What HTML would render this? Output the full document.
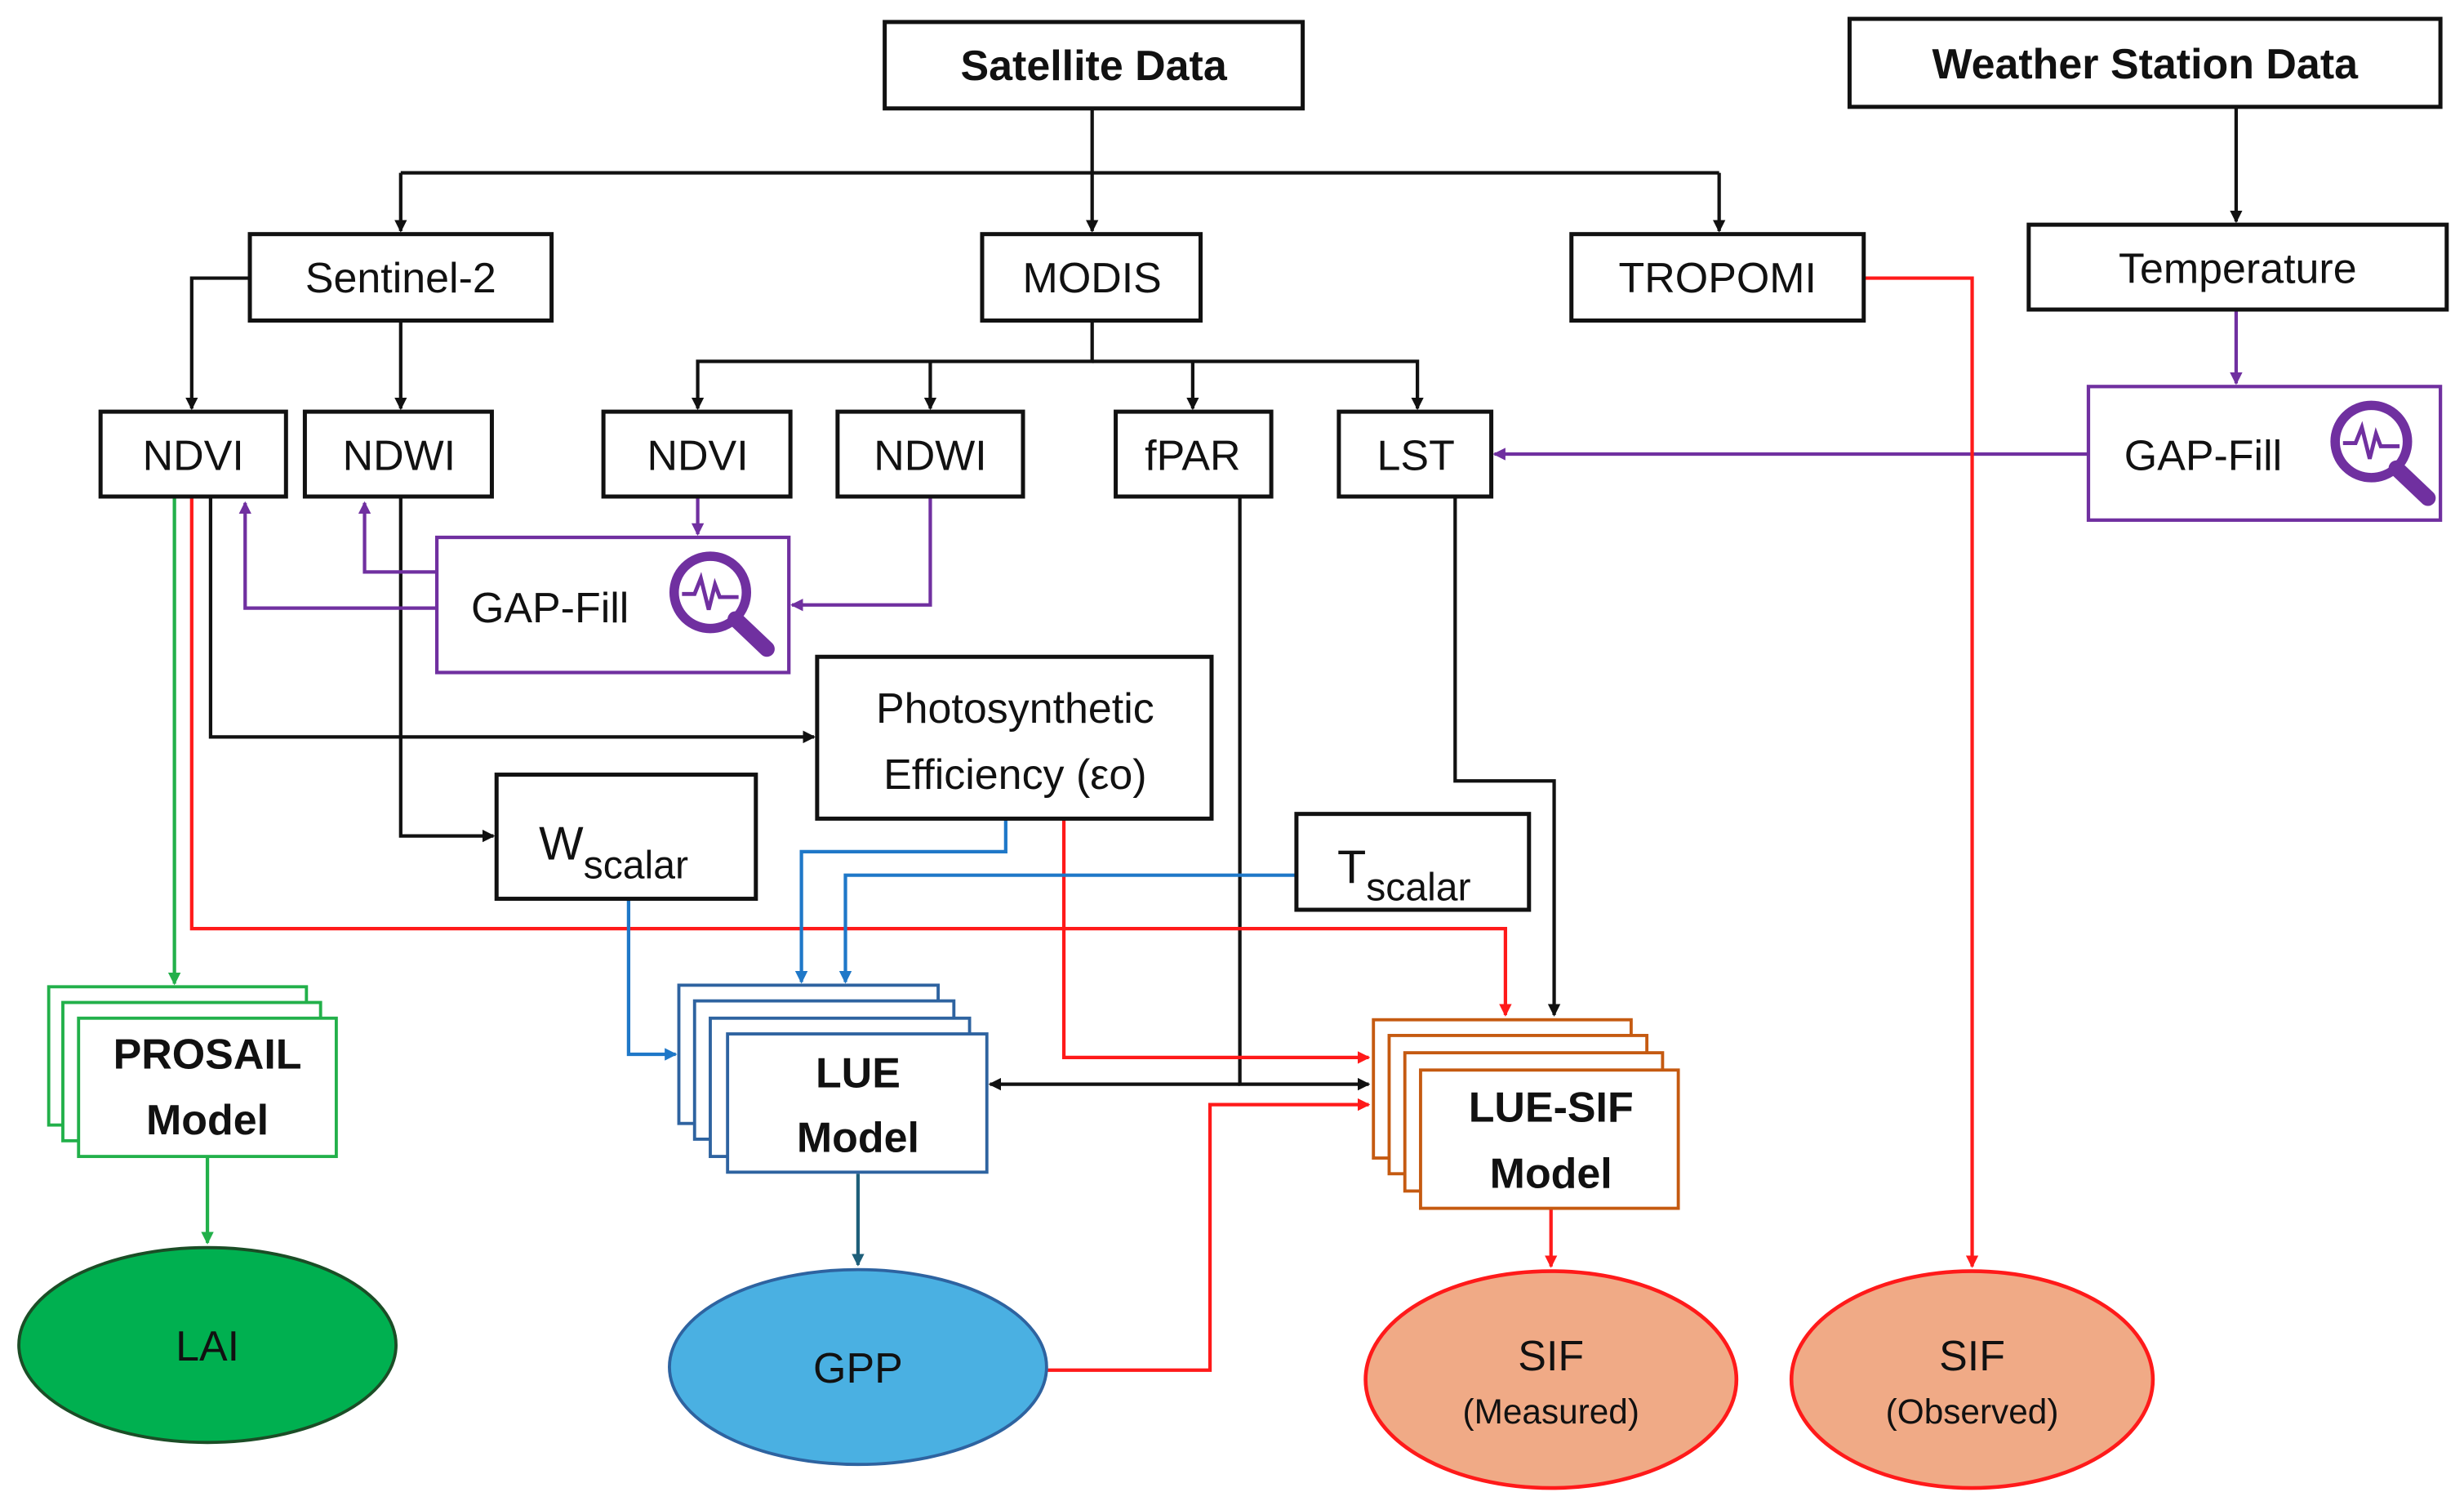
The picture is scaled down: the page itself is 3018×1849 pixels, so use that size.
<!DOCTYPE html>
<html><head><meta charset="utf-8"><style>
html,body{margin:0;padding:0;background:#fff;}
svg{display:block;}
text{font-family:"Liberation Sans",sans-serif;fill:#111;}
</style></head><body>
<svg width="3018" height="1849" viewBox="0 0 1568 961" preserveAspectRatio="none" xmlns="http://www.w3.org/2000/svg">
<defs>
<marker id="ak" markerWidth="8" markerHeight="8" refX="7" refY="4" orient="auto" markerUnits="userSpaceOnUse"><path d="M0,0 L8,4 L0,8 z" fill="#111"/></marker>
<marker id="ap" markerWidth="8" markerHeight="8" refX="7" refY="4" orient="auto" markerUnits="userSpaceOnUse"><path d="M0,0 L8,4 L0,8 z" fill="#7030a0"/></marker>
<marker id="ar" markerWidth="8" markerHeight="8" refX="7" refY="4" orient="auto" markerUnits="userSpaceOnUse"><path d="M0,0 L8,4 L0,8 z" fill="#ff1a1a"/></marker>
<marker id="ag" markerWidth="8" markerHeight="8" refX="7" refY="4" orient="auto" markerUnits="userSpaceOnUse"><path d="M0,0 L8,4 L0,8 z" fill="#22b04a"/></marker>
<marker id="ab" markerWidth="8" markerHeight="8" refX="7" refY="4" orient="auto" markerUnits="userSpaceOnUse"><path d="M0,0 L8,4 L0,8 z" fill="#1f78c8"/></marker>
<marker id="at" markerWidth="8" markerHeight="8" refX="7" refY="4" orient="auto" markerUnits="userSpaceOnUse"><path d="M0,0 L8,4 L0,8 z" fill="#1e5f7a"/></marker>
</defs>

<!-- connectors black -->
<g fill="none" stroke="#111" stroke-width="2.2">
<path d="M695,69 V147" marker-end="url(#ak)"/>
<path d="M255,110 H1094 M255,110 V147" marker-end="url(#ak)"/>
<path d="M1094,110 V147" marker-end="url(#ak)"/>
<path d="M1423,68 V141" marker-end="url(#ak)"/>
<path d="M159,177 H122 V260" marker-end="url(#ak)"/>
<path d="M255,204 V260" marker-end="url(#ak)"/>
<path d="M695,204 V230 H444 V260" marker-end="url(#ak)"/>
<path d="M592,230 V260" marker-end="url(#ak)"/>
<path d="M759,230 V260" marker-end="url(#ak)"/>
<path d="M695,230 H902 V260" marker-end="url(#ak)"/>
<path d="M134,316 V469 H518" marker-end="url(#ak)"/>
<path d="M255,316 V532 H314" marker-end="url(#ak)"/>
<path d="M789,316 V690 H871" marker-end="url(#ak)"/>
<path d="M789,690 H630" marker-end="url(#ak)"/>
<path d="M926,316 V497 H989 V646" marker-end="url(#ak)"/>
</g>
<!-- purple -->
<g fill="none" stroke="#7030a0" stroke-width="2.2">
<path d="M444,316 V340" marker-end="url(#ap)"/>
<path d="M592,316 V385 H504" marker-end="url(#ap)"/>
<path d="M278,364 H232 V320" marker-end="url(#ap)"/>
<path d="M278,387 H156 V320" marker-end="url(#ap)"/>
<path d="M1423,197 V244" marker-end="url(#ap)"/>
<path d="M1329,289 H951" marker-end="url(#ap)"/>
</g>
<!-- red -->
<g fill="none" stroke="#ff1a1a" stroke-width="2.2">
<path d="M1186,177 H1255 V806" marker-end="url(#ar)"/>
<path d="M122,316 V591 H958 V646" marker-end="url(#ar)"/>
<path d="M677,521 V673 H871" marker-end="url(#ar)"/>
<path d="M666,872 H770 V703 H871" marker-end="url(#ar)"/>
<path d="M987,769 V806" marker-end="url(#ar)"/>
</g>
<!-- green -->
<g fill="none" stroke="#22b04a" stroke-width="2.2">
<path d="M111,316 V626" marker-end="url(#ag)"/>
<path d="M132,736 V791" marker-end="url(#ag)"/>
</g>
<!-- blue -->
<g fill="none" stroke="#1f78c8" stroke-width="2.2">
<path d="M640,521 V542 H510 V625" marker-end="url(#ab)"/>
<path d="M825,557 H538 V625" marker-end="url(#ab)"/>
<path d="M400,572 V671 H430" marker-end="url(#ab)"/>
</g>
<path d="M546,747 V805" fill="none" stroke="#1e5f7a" stroke-width="2.2" marker-end="url(#at)"/>

<!-- boxes -->
<g fill="#fff" stroke="#111" stroke-width="2.6">
<rect x="563" y="14" width="266" height="55"/>
<rect x="1177" y="12" width="376" height="56"/>
<rect x="159" y="149" width="192" height="55"/>
<rect x="625" y="149" width="139" height="55"/>
<rect x="1000" y="149" width="186" height="55"/>
<rect x="1291" y="143" width="266" height="54"/>
<rect x="64" y="262" width="118" height="54"/>
<rect x="194" y="262" width="119" height="54"/>
<rect x="384" y="262" width="119" height="54"/>
<rect x="533" y="262" width="118" height="54"/>
<rect x="710" y="262" width="99" height="54"/>
<rect x="852" y="262" width="97" height="54"/>
<rect x="520" y="418" width="251" height="103"/>
<rect x="316" y="493" width="165" height="79"/>
<rect x="825" y="518" width="148" height="61"/>
</g>
<g fill="#fff" stroke="#7030a0" stroke-width="2.2">
<rect x="278" y="342" width="224" height="86"/>
<rect x="1329" y="246" width="224" height="85"/>
</g>

<!-- stacks -->
<g fill="#fff" stroke="#22b04a" stroke-width="2">
<rect x="31" y="628" width="164" height="88"/>
<rect x="40" y="638" width="164" height="88"/>
<rect x="50" y="648" width="164" height="88"/>
</g>
<g fill="#fff" stroke="#2e63a0" stroke-width="2">
<rect x="432" y="627" width="165" height="88"/>
<rect x="442" y="637" width="165" height="88"/>
<rect x="452" y="648" width="165" height="88"/>
<rect x="463" y="658" width="165" height="88"/>
</g>
<g fill="#fff" stroke="#c55a11" stroke-width="2">
<rect x="874" y="649" width="164" height="88"/>
<rect x="884" y="659" width="164" height="88"/>
<rect x="894" y="670" width="164" height="88"/>
<rect x="904" y="681" width="164" height="88"/>
</g>

<!-- ellipses -->
<ellipse cx="132" cy="856" rx="120" ry="62" fill="#00b050" stroke="#1b4d26" stroke-width="2"/>
<ellipse cx="546" cy="870" rx="120" ry="62" fill="#4ab0e2" stroke="#2e63a0" stroke-width="2"/>
<ellipse cx="987" cy="878" rx="118" ry="69" fill="#f0aa86" stroke="#ff1a1a" stroke-width="2.4"/>
<ellipse cx="1255" cy="878" rx="115" ry="69" fill="#f0aa86" stroke="#ff1a1a" stroke-width="2.4"/>

<!-- icons -->
<g fill="none" stroke="#7030a0">
<circle cx="452" cy="377" r="23" stroke-width="6"/>
<path d="M468,394 L488,413" stroke-width="10" stroke-linecap="round"/>
<path d="M434,378 H442 L446,368 L451,388 L455,372 L458,380 H470" stroke-width="2.5"/>
<circle cx="1509" cy="281" r="23" stroke-width="6"/>
<path d="M1525,298 L1545,317" stroke-width="10" stroke-linecap="round"/>
<path d="M1491,282 H1499 L1503,272 L1508,292 L1512,276 L1515,284 H1527" stroke-width="2.5"/>
</g>

<!-- text -->
<g font-size="27" text-anchor="middle">
<text x="696" y="51" font-weight="bold">Satellite Data</text>
<text x="1365" y="50" font-weight="bold">Weather Station Data</text>
<text x="255" y="186">Sentinel-2</text>
<text x="695" y="186">MODIS</text>
<text x="1093" y="186">TROPOMI</text>
<text x="1424" y="180">Temperature</text>
<text x="123" y="299">NDVI</text>
<text x="254" y="299">NDWI</text>
<text x="444" y="299">NDVI</text>
<text x="592" y="299">NDWI</text>
<text x="759" y="299">fPAR</text>
<text x="901" y="299">LST</text>
<text x="350" y="396">GAP-Fill</text>
<text x="1402" y="299">GAP-Fill</text>
<text x="646" y="460">Photosynthetic</text>
<text x="646" y="502">Efficiency (εo)</text>
<text x="132" y="680" font-weight="bold">PROSAIL</text>
<text x="132" y="722" font-weight="bold">Model</text>
<text x="546" y="692" font-weight="bold">LUE</text>
<text x="546" y="733" font-weight="bold">Model</text>
<text x="987" y="714" font-weight="bold">LUE-SIF</text>
<text x="987" y="756" font-weight="bold">Model</text>
<text x="132" y="866">LAI</text>
<text x="546" y="880">GPP</text>
<text x="987" y="872">SIF</text>
<text x="1255" y="872">SIF</text>
</g>
<g font-size="22" text-anchor="middle">
<text x="987" y="906">(Measured)</text>
<text x="1255" y="906">(Observed)</text>
</g>
<text x="343" y="547" font-size="30">W<tspan font-size="25" dy="12">scalar</tspan></text>
<text x="851" y="562" font-size="30">T<tspan font-size="25" dy="11">scalar</tspan></text>
</svg>
</body></html>
